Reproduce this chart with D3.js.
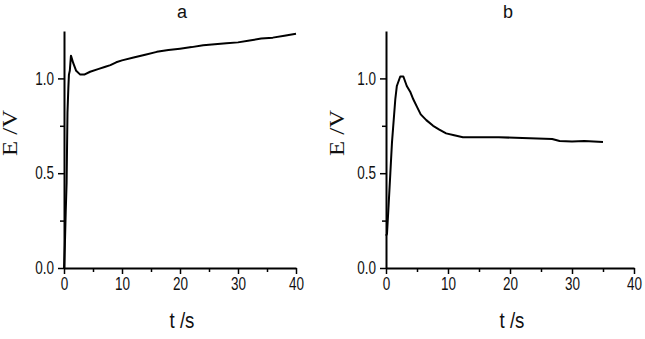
<!DOCTYPE html>
<html>
<head>
<meta charset="utf-8">
<script src="https://cdn.jsdelivr.net/npm/d3@7"></script>
<style>
  body { margin: 0; background: #fff; }
  svg { display: block; }
  text { font-family: "Liberation Sans", "DejaVu Sans", sans-serif; fill: #111; }
</style>
</head>
<body>
<svg id="svg" width="645" height="339"></svg>
<script>
/*global d3*/

// panel a: potential vs time
const tA = [0, 0.15, 0.3, 0.45, 0.6, 0.75, 0.85, 1.0, 1.2, 1.6, 2.1, 2.8, 3.5, 4.5, 6, 7, 8, 9, 10, 12, 14, 16, 18, 20, 22, 24, 26, 28, 30, 32, 34, 36, 38, 40];
const eA = [0.0, 0.12, 0.3, 0.45, 0.82, 0.95, 1.02, 1.04, 1.12, 1.08, 1.04, 1.02, 1.02, 1.035, 1.05, 1.06, 1.07, 1.085, 1.095, 1.11, 1.125, 1.14, 1.15, 1.157, 1.165, 1.175, 1.18, 1.185, 1.19, 1.2, 1.21, 1.215, 1.225, 1.235];

// panel b
const tB = [0, 0.16, 0.4, 0.7, 0.96, 1.5, 1.75, 2.3, 2.8, 3.35, 3.9, 4.4, 5.0, 5.6, 6.5, 7.6, 8.6, 9.7, 11, 12.4, 15, 18.2, 22, 26.8, 28, 30, 32, 35];
const eB = [0.17, 0.18, 0.32, 0.5, 0.66, 0.89, 0.96, 1.01, 1.01, 0.96, 0.93, 0.89, 0.85, 0.81, 0.78, 0.75, 0.73, 0.71, 0.70, 0.69, 0.69, 0.69, 0.685, 0.68, 0.67, 0.667, 0.67, 0.665];

const xTicks = [0, 10, 20, 30, 40];
const xMinor = [5, 15, 25, 35];
const yTicks = [0, 0.5, 1.0];
const yMinor = [0.25, 0.75];

const svg = d3.select("#svg");

const panels = [
  {title: "a", t: tA, e: eA, left: 64, right: 296, titleX: 182, ylabX: 10},
  {title: "b", t: tB, e: eB, left: 386, right: 634, titleX: 508, ylabX: 337}
];

const plotTop = 31, plotBottom = 268;

// squeeze text horizontally, the original uses a narrow face
const narrow = (sel, k) => sel.each(function() {
  const w = this.getComputedTextLength();
  d3.select(this).attr('textLength', w * k).attr('lengthAdjust', 'spacingAndGlyphs');
});

panels.forEach(p => {
  const x = d3.scaleLinear().domain([0, 40]).range([p.left, p.right]);
  const y = d3.scaleLinear().domain([0, 1.25]).range([plotBottom, plotTop]);

  const g = svg.append('g');

  // minor ticks
  const xm = g.append('g').attr('transform', `translate(0,${plotBottom})`)
    .call(d3.axisBottom(x).tickValues(xMinor).tickSize(4).tickFormat(''));
  xm.select('.domain').remove();
  const ym = g.append('g').attr('transform', `translate(${p.left},0)`)
    .call(d3.axisLeft(y).tickValues(yMinor).tickSize(4).tickFormat(''));
  ym.select('.domain').remove();

  const xAxisG = g.append('g').attr('transform', `translate(0,${plotBottom})`)
    .call(d3.axisBottom(x).tickValues(xTicks).tickSize(6).tickSizeOuter(0).tickPadding(3).tickFormat(d3.format('d')));
  xAxisG.selectAll('text').style('font-size', '18px').attr('fill', '#111').call(narrow, 0.75);

  const yAxisG = g.append('g').attr('transform', `translate(${p.left},0)`)
    .call(d3.axisLeft(y).tickValues(yTicks).tickSize(6).tickSizeOuter(0).tickPadding(4).tickFormat(d3.format('.1f')));
  yAxisG.selectAll('text').style('font-size', '18px').attr('fill', '#111').call(narrow, 0.75);

  g.selectAll('.domain').attr('stroke', '#000').attr('stroke-width', 2);
  g.selectAll('.tick line').attr('stroke', '#000').attr('stroke-width', 1.5);

  const line = d3.line().x((d, i) => x(p.t[i])).y(d => y(d));
  g.append('path').datum(p.e)
    .attr('d', line)
    .attr('fill', 'none')
    .attr('stroke', '#000')
    .attr('stroke-width', 2)
    .attr('stroke-linejoin', 'round');

  g.append('text')
    .attr('x', p.titleX).attr('y', 18)
    .attr('text-anchor', 'middle')
    .style('font-size', '18px')
    .text(p.title);

  g.append('text')
    .attr('x', (p.left + p.right) / 2 + 2).attr('y', 328)
    .attr('text-anchor', 'middle')
    .style('font-size', '22px')
    .text('t /s')
    .call(narrow, 0.85);

  g.append('text')
    .attr('transform', `translate(${p.ylabX + 7},133) rotate(-90)`)
    .attr('text-anchor', 'middle')
    .style('font-family', '"Liberation Serif", serif')
    .style('font-size', '20px')
    .attr('textLength', 46)
    .attr('lengthAdjust', 'spacingAndGlyphs')
    .text('E /V');
});
</script>
</body>
</html>
